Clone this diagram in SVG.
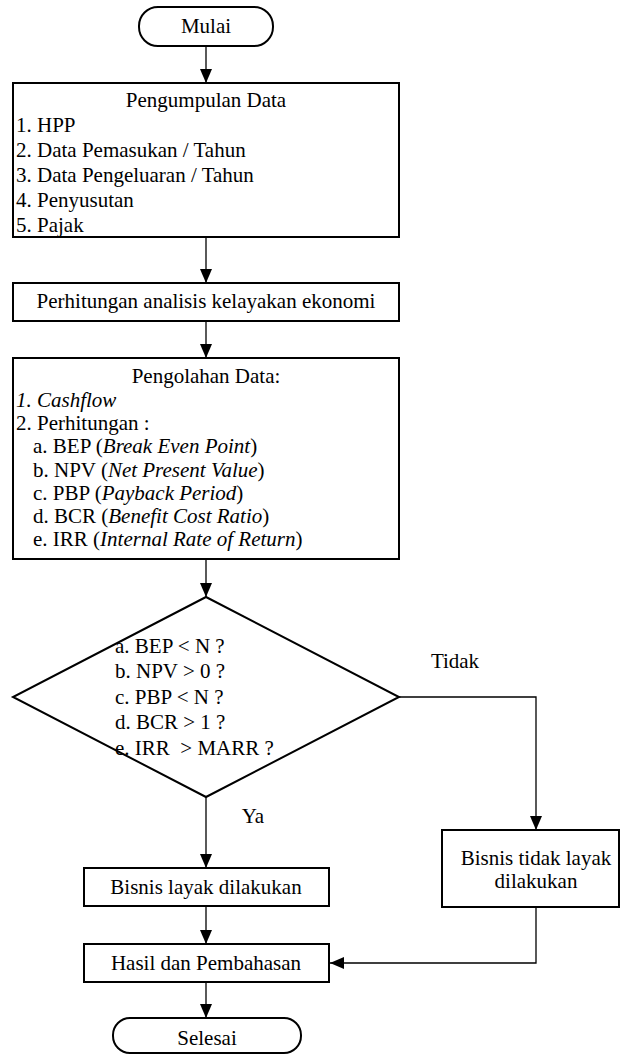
<svg xmlns="http://www.w3.org/2000/svg" width="620" height="1054" viewBox="0 0 620 1054" font-family="Liberation Serif, serif" font-size="21">
<style>
.c{text-anchor:middle}
.box{fill:#fff;stroke:#000;stroke-width:2}
.conn{fill:none;stroke:#000;stroke-width:1.3}
.i{font-style:italic}
</style>
<defs>
<marker id="ah" viewBox="0 0 14 12" refX="14" refY="6" markerWidth="14" markerHeight="12" markerUnits="userSpaceOnUse" orient="auto">
<path d="M0,0 L14,6 L0,12 z" fill="#000"/>
</marker>
</defs>
<rect width="620" height="1054" fill="#fff"/>
<g id="connectors">
<path class="conn" d="M206,46 V83" marker-end="url(#ah)"/>
<path class="conn" d="M206,237 V283" marker-end="url(#ah)"/>
<path class="conn" d="M206,321 V358" marker-end="url(#ah)"/>
<path class="conn" d="M206,559 V597" marker-end="url(#ah)"/>
<path class="conn" d="M206,797 V868" marker-end="url(#ah)"/>
<path class="conn" d="M399,697 H536 V830" marker-end="url(#ah)"/>
<path class="conn" d="M206,906 V944" marker-end="url(#ah)"/>
<path class="conn" d="M536,907 V963 H330" marker-end="url(#ah)"/>
<path class="conn" d="M206,982 V1018" marker-end="url(#ah)"/>
<text x="455" y="668" class="c">Tidak</text>
<text x="253" y="823" class="c">Ya</text>
</g>
<g id="mulai">
<rect class="box" x="139" y="7" width="134" height="39" rx="19"/>
<text x="206" y="33" class="c">Mulai</text>
</g>
<g id="pengumpulan">
<rect class="box" x="13" y="83" width="386" height="154"/>
<text x="206" y="107" class="c">Pengumpulan Data</text>
<text x="16" y="132">1. HPP</text>
<text x="16" y="157">2. Data Pemasukan / Tahun</text>
<text x="16" y="182">3. Data Pengeluaran / Tahun</text>
<text x="16" y="207">4. Penyusutan</text>
<text x="16" y="232">5. Pajak</text>
</g>
<g id="perhitungan">
<rect class="box" x="13" y="283" width="386" height="38"/>
<text x="206" y="308" class="c">Perhitungan analisis kelayakan ekonomi</text>
</g>
<g id="pengolahan">
<rect class="box" x="13" y="358" width="386" height="201"/>
<text x="206" y="383" class="c">Pengolahan Data:</text>
<text x="16" y="407" class="i">1. Cashflow</text>
<text x="16" y="430">2. Perhitungan :</text>
<text x="33" y="453">a. BEP (<tspan class="i">Break Even Point</tspan>)</text>
<text x="33" y="477">b. NPV (<tspan class="i">Net Present Value</tspan>)</text>
<text x="33" y="500">c. PBP (<tspan class="i">Payback Period</tspan>)</text>
<text x="33" y="523">d. BCR (<tspan class="i">Benefit Cost Ratio</tspan>)</text>
<text x="33" y="546">e. IRR (<tspan class="i">Internal Rate of Return</tspan>)</text>
</g>
<g id="keputusan">
<polygon class="box" points="206,597 399,697 206,797 13,697"/>
<text x="115" y="653">a. BEP &lt; N ?</text>
<text x="115" y="678">b. NPV &gt; 0 ?</text>
<text x="115" y="704">c. PBP &lt; N ?</text>
<text x="115" y="729">d. BCR &gt; 1 ?</text>
<text x="115" y="755">e. IRR&#160; &gt; MARR ?</text>
</g>
<g id="layak">
<rect class="box" x="84" y="868" width="245" height="38"/>
<text x="206" y="894" class="c">Bisnis layak dilakukan</text>
</g>
<g id="tidaklayak">
<rect class="box" x="442" y="830" width="177" height="77"/>
<text x="536" y="865" class="c">Bisnis tidak layak</text>
<text x="536" y="888" class="c">dilakukan</text>
</g>
<g id="hasil">
<rect class="box" x="84" y="944" width="245" height="38"/>
<text x="206" y="970" class="c">Hasil dan Pembahasan</text>
</g>
<g id="selesai">
<rect class="box" x="113" y="1018" width="188" height="35" rx="17"/>
<text x="207" y="1045" class="c">Selesai</text>
</g>
</svg>
